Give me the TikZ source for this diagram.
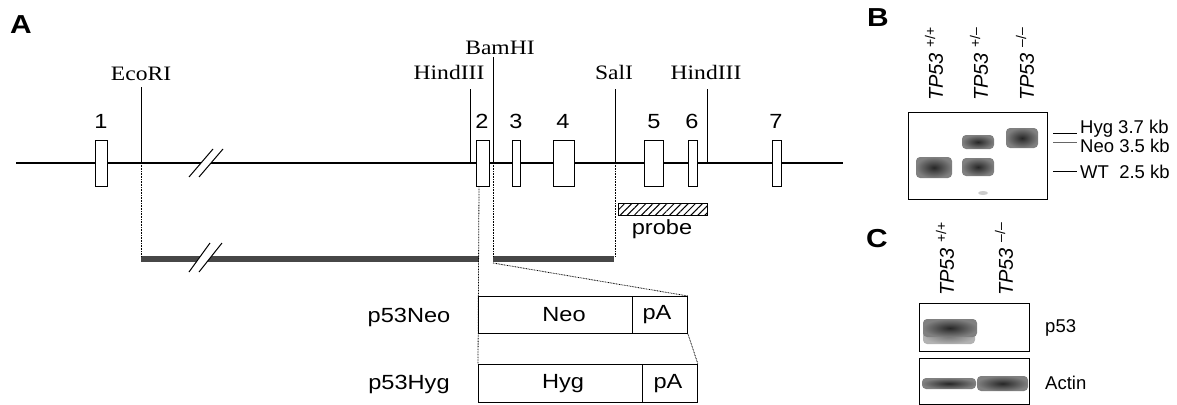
\documentclass[tikz,border=0pt]{standalone}
\usepackage{fontspec}
\setmainfont{Liberation Sans}
\newfontfamily\sfA{Liberation Sans}[FakeStretch=1.15]
\newfontfamily\rmA{Liberation Serif}[FakeStretch=1.15]
\usetikzlibrary{patterns.meta}
\begin{document}
\begin{tikzpicture}[x=1pt,y=-1pt,
  exon/.style={draw, fill=white, line width=0.9pt, minimum height=46pt, inner sep=0pt},
  site/.style={line width=0.9pt},
  serif/.style={font=\rmA\fontsize{20.5}{24}\selectfont, inner sep=0pt},
  sans/.style={font=\sfA\fontsize{20.5}{24}\selectfont, inner sep=0pt},
  bsans/.style={font=\fontsize{18.5}{21}\selectfont, inner sep=0pt},
  panel/.style={font=\sfA\bfseries\fontsize{26}{28}\selectfont, inner sep=0pt},
  lane/.style={font=\fontsize{20}{22}\selectfont, rotate=90, anchor=west, inner sep=0pt},
  dot/.style={line width=0.8pt, dash pattern=on 0.8pt off 0.8pt},
  bar/.style={fill=black!72},
  cassette/.style={draw, line width=0.9pt, fill=white, inner sep=0pt},
  band/.style={rounded corners=4pt, inner color=black!85, outer color=black!50},
  gel/.style={draw, line width=1.1pt}
]
\useasboundingbox (0,0) rectangle (1177,404);

% ---------- Panel A ----------
\node[panel] (pA) at (21,25) {A};

% main genomic line
\coordinate (mL) at (16,163);
\coordinate (mR) at (843,163);
\draw[line width=1.7pt] (mL) -- (mR);

% restriction sites
\coordinate (ecoT) at (141,87);   \coordinate (ecoB) at (141,163);
\coordinate (hin1T) at (470,89);  \coordinate (hin1B) at (470,163);
\coordinate (bamT) at (493,57);   \coordinate (bamB) at (493,163);
\coordinate (salT) at (615,89);   \coordinate (salB) at (615,163);
\coordinate (hin2T) at (707,89);  \coordinate (hin2B) at (707,163);
\draw[site] (ecoT) -- (ecoB);
\draw[site] (hin1T) -- (hin1B);
\draw[site] (bamT) -- (bamB);
\draw[site] (salT) -- (salB);
\draw[site] (hin2T) -- (hin2B);

\node[serif, anchor=base] (lEco) at (141,81) {EcoRI};
\node[serif, anchor=base] (lHin1) at (449,79) {HindIII};
\node[serif, anchor=base] (lBam) at (500,55) {BamHI};
\node[serif, anchor=base] (lSal) at (614,79) {SalI};
\node[serif, anchor=base] (lHin2) at (706,79) {HindIII};

% exons
\node[exon, minimum width=12pt] (e1) at (101,163) {};
\node[exon, minimum width=13pt] (e2) at (482.5,163) {};
\node[exon, minimum width=8pt]  (e3) at (516,163) {};
\node[exon, minimum width=21pt] (e4) at (563.5,163) {};
\node[exon, minimum width=19pt] (e5) at (653.5,163) {};
\node[exon, minimum width=9pt]  (e6) at (692.5,163) {};
\node[exon, minimum width=9pt]  (e7) at (776.5,163) {};
\foreach \n/\x in {1/101,2/482,3/516,4/563,5/654,6/692,7/776}
  \node[sans, anchor=base] (n\n) at (\x,128) {\n};

% targeting construct bars
\fill[bar] (141,256) rectangle (479,262);
\fill[bar] (493,256) rectangle (614,262);

% break marks
\fill[white] (189,177) -- (213,149) -- (223,149) -- (199,177) -- cycle;
\draw[line width=1pt] (189,177) -- (213,149) (199,177) -- (223,149);
\fill[white] (189,272) -- (210,243) -- (222,243) -- (199,272) -- cycle;
\draw[line width=1pt] (189,272) -- (210,243) (199,272) -- (222,243);

% cassettes
\node[cassette, minimum width=154pt, minimum height=37pt, anchor=north west] (neo) at (478,296) {};
\node[cassette, minimum width=55pt, minimum height=37pt, anchor=north west] (neopA) at (632,296) {};
\node[cassette, minimum width=164pt, minimum height=38pt, anchor=north west] (hyg) at (478,364) {};
\node[cassette, minimum width=55pt, minimum height=38pt, anchor=north west] (hygpA) at (642,364) {};
\node[sans] at (564,315) {Neo};
\node[sans] at (657,315) {pA};
\node[sans] at (563,384) {Hyg};
\node[sans] at (668,384) {pA};
\node[sans] (lNeo) at (409,317) {p53Neo};
\node[sans] (lHyg) at (409,384) {p53Hyg};

% dotted guide lines
\draw[dot] (ecoB) -- (141,256);
\draw[dot] (bamB) -- (493,256);
\draw[dot] (salB) -- (615,256);
\coordinate (e2bl) at (479,186);
\draw[dot] (e2bl) -- (hyg.north west);
\draw[dot] (493,263) -- (neopA.north east);
\draw[dot] (neopA.south east) -- (hygpA.north east);

% probe
\node[draw, line width=0.9pt, pattern={Lines[angle=45,distance=5pt,line width=1pt]},
      minimum width=89pt, minimum height=12pt, inner sep=0pt, anchor=north west] (probe) at (618,203) {};
\node[sans] (lProbe) at (662,229) {probe};

% ---------- Panel B ----------
\node[panel] (pB) at (878,18) {B};
\node[lane] (lb1) at (934,101) {\textit{TP53} \textsuperscript{+/+}};
\node[lane] (lb2) at (979,101) {\textit{TP53} \textsuperscript{+/–}};
\node[lane] (lb3) at (1025,101) {\textit{TP53} \textsuperscript{–/–}};
\node[gel, minimum width=139pt, minimum height=87pt, anchor=north west, inner sep=0pt] (gelB) at (908,112) {};
\shade[band] (916,157) rectangle (952,178);
\shade[band] (962,135) rectangle (994,149);
\shade[band] (962,158) rectangle (994,176);
\shade[band] (1006,128) rectangle (1038,148);
\fill[black!20] (983,193) ellipse (5pt and 2pt);
\coordinate (mk1a) at (1053,133); \coordinate (mk1b) at (1077,133);
\coordinate (mk2a) at (1053,142); \coordinate (mk2b) at (1077,142);
\coordinate (mk3a) at (1053,171); \coordinate (mk3b) at (1077,171);
\draw[line width=0.9pt] (mk1a) -- (mk1b);
\draw[line width=0.9pt, black!60] (mk2a) -- (mk2b);
\draw[line width=0.9pt] (mk3a) -- (mk3b);
\node[bsans, anchor=west] (mHyg) at (1080,129) {Hyg 3.7 kb};
\node[bsans, anchor=west] (mNeo) at (1080,146) {Neo 3.5 kb};
\node[bsans, anchor=west] (mWT) at (1080,172) {WT\ \ 2.5 kb};

% ---------- Panel C ----------
\node[panel] (pC) at (877,239) {C};
\node[lane] (lc1) at (945,296) {\textit{TP53} \textsuperscript{+/+}};
\node[lane] (lc2) at (1004,296) {\textit{TP53} \textsuperscript{–/–}};
\node[gel, minimum width=110pt, minimum height=48pt, anchor=north west, inner sep=0pt] (gelC1) at (919,303) {};
\node[gel, minimum width=110pt, minimum height=46pt, anchor=north west, inner sep=0pt] (gelC2) at (919,358) {};
\shade[rounded corners=4pt, inner color=black!55, outer color=black!30] (923,328) rectangle (975,344);
\shade[band] (923,319) rectangle (977,337);
\shade[band] (922,378) rectangle (976,389);
\shade[band] (977,376) rectangle (1028,391);
\node[bsans, anchor=west] (lp53) at (1045,328) {p53};
\node[bsans, anchor=west] (lActin) at (1045,383) {Actin};
\end{tikzpicture}
\end{document}
